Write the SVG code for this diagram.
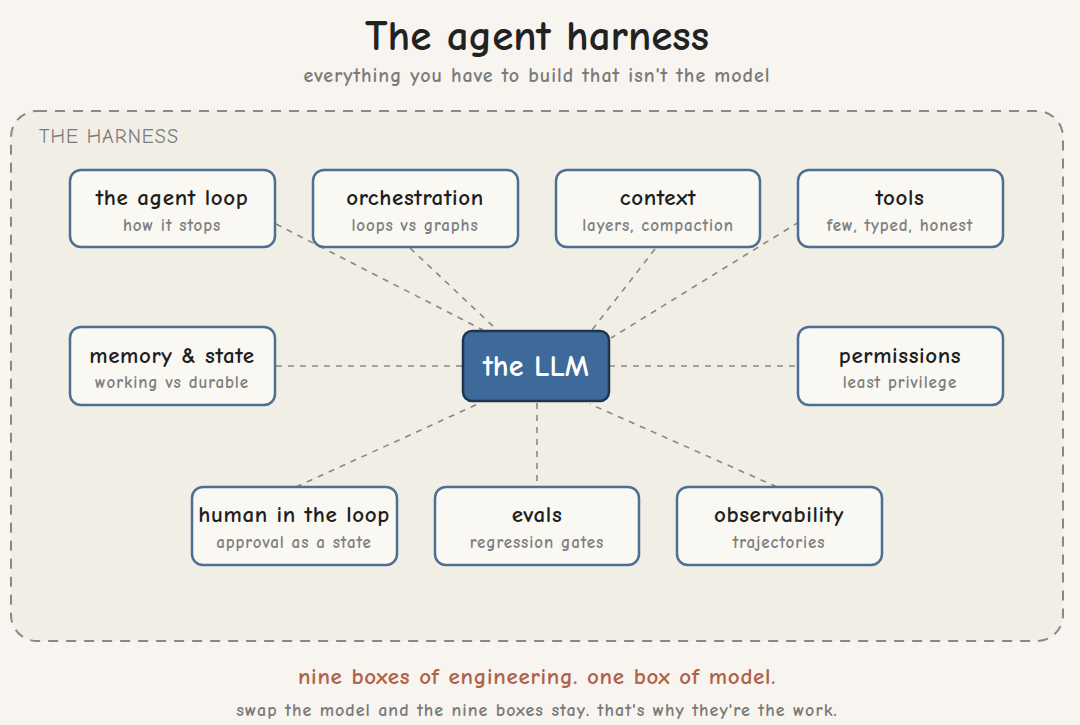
<svg xmlns="http://www.w3.org/2000/svg" width="1080" height="725" viewBox="0 0 1080 725">
<style>
text{font-family:"Comic Neue","Open Sans","DejaVu Sans",sans-serif;text-anchor:middle}
.t{font-size:23px;fill:#1f1f1f;font-weight:700;letter-spacing:0.6px}
.s{font-size:17px;fill:#808080;font-weight:700;letter-spacing:0.9px}
.box{fill:#faf8f3;stroke:#4d6f94;stroke-width:2.5}
.c{stroke:#8a8784;stroke-width:1.6;stroke-dasharray:6 6;fill:none}
</style>
<rect width="1080" height="725" fill="#f8f5f0"/>
<text x="537" y="50" style="font-size:43px;fill:#222;font-weight:700">The agent harness</text>
<text x="537" y="82" style="font-size:20px;fill:#7a7a7a;font-weight:700;letter-spacing:1px">everything you have to build that isn't the model</text>
<g id="harness">
<rect x="11" y="111" width="1052" height="530" rx="26" fill="#f1eee6" stroke="#8a8784" stroke-width="2" stroke-dasharray="10 8"/>
<text x="39" y="143" style="font-size:20px;fill:#7a7a7a;text-anchor:start;letter-spacing:1px">THE HARNESS</text>
</g>
<g id="connectors">
<line class="c" x1="276" y1="224" x2="483" y2="330"/>
<line class="c" x1="410" y1="248" x2="497" y2="330"/>
<line class="c" x1="655" y1="249" x2="592" y2="330"/>
<line class="c" x1="799" y1="222" x2="611" y2="338"/>
<line class="c" x1="276" y1="366" x2="463" y2="366"/>
<line class="c" x1="609" y1="366" x2="798" y2="366"/>
<line class="c" x1="296" y1="487" x2="480" y2="403"/>
<line class="c" x1="537" y1="403" x2="537" y2="487"/>
<line class="c" x1="777" y1="487" x2="590" y2="404"/>
</g>
<g id="agent-loop"><rect class="box" x="70" y="170" width="205" height="77" rx="11"/><text class="t" x="172" y="205">the agent loop</text><text class="s" x="172" y="231">how it stops</text></g>
<g id="orchestration"><rect class="box" x="313" y="170" width="205" height="77" rx="11"/><text class="t" x="415" y="205">orchestration</text><text class="s" x="415" y="231">loops vs graphs</text></g>
<g id="context"><rect class="box" x="556" y="170" width="204" height="77" rx="11"/><text class="t" x="658" y="205">context</text><text class="s" x="658" y="231">layers, compaction</text></g>
<g id="tools"><rect class="box" x="798" y="170" width="205" height="77" rx="11"/><text class="t" x="900" y="205">tools</text><text class="s" x="900" y="231">few, typed, honest</text></g>
<g id="memory"><rect class="box" x="70" y="327" width="205" height="78" rx="11"/><text class="t" x="172" y="363">memory &amp; state</text><text class="s" x="172" y="388">working vs durable</text></g>
<g id="llm"><rect x="463" y="331" width="146" height="70" rx="9" fill="#3d6a9a" stroke="#1e3550" stroke-width="2.5"/><text x="536" y="376" style="font-size:30px;fill:#ffffff;font-weight:700">the LLM</text></g>
<g id="permissions"><rect class="box" x="798" y="327" width="205" height="78" rx="11"/><text class="t" x="900" y="363">permissions</text><text class="s" x="900" y="388">least privilege</text></g>
<g id="human"><rect class="box" x="192" y="487" width="205" height="78" rx="11"/><text class="t" x="294" y="522">human in the loop</text><text class="s" x="294" y="548">approval as a state</text></g>
<g id="evals"><rect class="box" x="435" y="487" width="204" height="78" rx="11"/><text class="t" x="537" y="522">evals</text><text class="s" x="537" y="548">regression gates</text></g>
<g id="observability"><rect class="box" x="677" y="487" width="205" height="78" rx="11"/><text class="t" x="779" y="522">observability</text><text class="s" x="779" y="548">trajectories</text></g>
<text x="537" y="684" style="font-size:23px;fill:#b0624a;font-weight:700;letter-spacing:0.7px">nine boxes of engineering. one box of model.</text>
<text x="537" y="716" style="font-size:18px;fill:#7a7a7a;font-weight:700;letter-spacing:1px">swap the model and the nine boxes stay. that's why they're the work.</text>
</svg>
